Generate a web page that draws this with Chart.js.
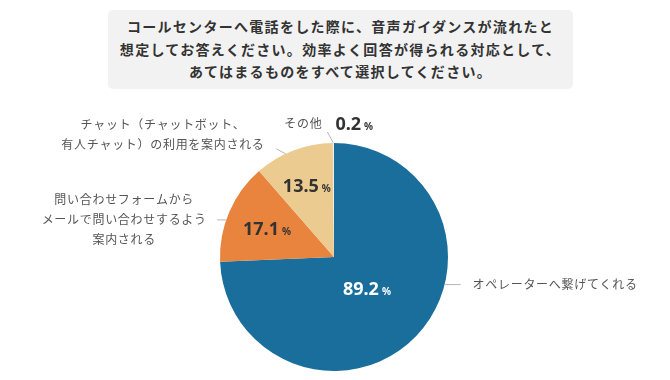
<!DOCTYPE html>
<html lang="ja">
<head>
<meta charset="utf-8">
<script src="https://cdn.jsdelivr.net/npm/chart.js@4/dist/chart.umd.min.js"></script>
<style>
  html, body { margin: 0; padding: 0; background: #fff; }
  #wrap { position: relative; width: 670px; height: 380px; overflow: hidden; }
  #title {
    position: absolute; left: 108px; top: 10px; width: 465px; height: 79px;
    background: #f2f2f2; border-radius: 5px; box-sizing: border-box;
    padding-top: 5px; text-align: center;
    font-family: "Noto Sans CJK JP", sans-serif; font-weight: 700;
    font-size: 14px; line-height: 22.5px; letter-spacing: 1.3px; color: #333;
  }
  canvas { position: absolute; left: 0; top: 0; }
</style>
</head>
<body>
<div id="wrap">
  <div id="title">コールセンターへ電話をした際に、音声ガイダンスが流れたと<br>想定してお答えください。効率よく回答が得られる対応として、<br>あてはまるものをすべて選択してください。</div>
  <canvas id="c" width="670" height="380"></canvas>
</div>
<script>
const categories = [
  ["オペレーターへ繋げてくれる"],
  ["問い合わせフォームから", "メールで問い合わせするよう", "案内される"],
  ["チャット（チャットボット、", "有人チャット）の利用を案内される"],
  ["その他"]
];
const values = [89.2, 17.1, 13.5, 0.2];
const valueLabels = ["89.2", "17.1", "13.5", "0.2"];
const colors = ["#1a6e9c", "#e8843e", "#ebcb8f", "#eeeeee"];

// label styling (positions relative to the arc geometry)
const labelStyle = [
  { inFrac: 0.40, numColor: "#ffffff", edgeDeg: 104, lead: [16, 0], text: [12, 0], align: "left" },
  { inFrac: 0.64, numColor: "#333333", edgeDeg: 289, lead: [-9, 0], text: [-93, 0], align: "center" },
  { inFrac: 0.67, numColor: "#333333", edgeDeg: 334.8, lead: [-9, -5], text: [-113.5, -14], align: "center" },
  { inFrac: null, numColor: "#333333", edgeDeg: 359.7, lead: [-6, -11], text: [-5, -9], align: "right", valOff: [8, -9] }
];

function drawValue(ctx, label, cx, cy, color, mode) {
  ctx.save();
  ctx.fillStyle = color;
  ctx.textBaseline = "alphabetic";
  ctx.letterSpacing = "0px";
  const numFont = "700 18px 'Noto Sans', sans-serif";
  const pctFont = "700 10px 'Noto Sans', sans-serif";
  ctx.font = numFont;
  const w1 = ctx.measureText(label).width;
  ctx.font = pctFont;
  const w2 = ctx.measureText("%").width;
  const gap = 3;
  let x0 = mode === "left" ? cx : cx - (w1 + gap + w2) / 2;
  const base = cy + 6.5;
  ctx.font = numFont;
  ctx.textAlign = "left";
  ctx.fillText(label, x0, base);
  ctx.font = pctFont;
  ctx.fillText("%", x0 + w1 + gap, base);
  ctx.restore();
}

const labelPlugin = {
  id: "pieLabels",
  afterDatasetsDraw(chart) {
    const ctx = chart.ctx;
    const meta = chart.getDatasetMeta(0);
    meta.data.forEach((arc, i) => {
      const p = arc.getProps(["x", "y", "startAngle", "endAngle", "outerRadius"], true);
      const st = labelStyle[i];
      const r = p.outerRadius;
      // inside value
      if (st.inFrac !== null) {
        const mid = (p.startAngle + p.endAngle) / 2;
        drawValue(ctx, valueLabels[i], p.x + Math.cos(mid) * r * st.inFrac,
                  p.y + Math.sin(mid) * r * st.inFrac, st.numColor, "center");
      }
      // leader line
      const a = (st.edgeDeg - 90) * Math.PI / 180;
      const ex = p.x + Math.cos(a) * r, ey = p.y + Math.sin(a) * r;
      const lx = ex + st.lead[0], ly = ey + st.lead[1];
      ctx.save();
      ctx.strokeStyle = "#b5b5b5";
      ctx.lineWidth = 1;
      ctx.beginPath();
      ctx.moveTo(ex, ey);
      ctx.lineTo(lx, ly);
      ctx.stroke();
      // category text
      const lines = categories[i];
      const tx = lx + st.text[0], ty = ly + st.text[1];
      ctx.fillStyle = "#555555";
      ctx.font = "400 12px 'Noto Sans CJK JP', sans-serif";
      ctx.letterSpacing = "0.7px";
      ctx.textBaseline = "middle";
      ctx.textAlign = st.align;
      const lh = 20;
      const top = ty - (lines.length - 1) * lh / 2;
      lines.forEach((ln, k) => ctx.fillText(ln, tx, top + k * lh));
      ctx.restore();
      if (st.valOff) {
        drawValue(ctx, valueLabels[i], lx + st.valOff[0], ly + st.valOff[1], st.numColor, "left");
      }
    });
  }
};

new Chart(document.getElementById("c"), {
  type: "pie",
  data: {
    labels: categories.map(c => c.join("")),
    datasets: [{ data: values, backgroundColor: colors, borderWidth: 0 }]
  },
  options: {
    responsive: false,
    animation: false,
    events: [],
    layout: { padding: { top: 143, bottom: 9, left: 220, right: 222 } },
    plugins: { legend: { display: false }, tooltip: { enabled: false } }
  },
  plugins: [labelPlugin]
});
</script>
</body>
</html>
